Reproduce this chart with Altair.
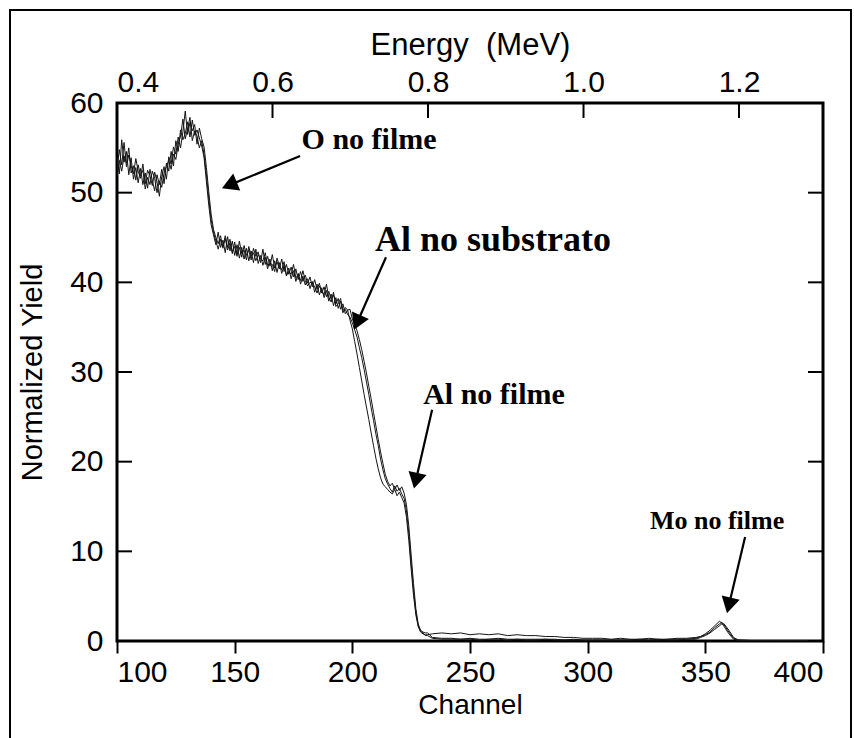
import math
import altair as alt
import pandas as pd

FONT = "Liberation Sans"
SERIF = "Liberation Serif"

# ---------------- data ----------------
channels_main = list(range(100, 233))

series1_main = [
    52.5, 54.8, 53.1, 55.6, 52.9, 54.2, 53.0, 52.1, 53.8, 52.4,
    51.6, 53.2, 51.0, 52.5, 51.9, 50.8, 52.3, 51.2, 49.6, 51.8,
    52.9, 51.5, 54.0, 53.2, 55.1, 54.3, 56.2, 55.0, 56.8, 59.1,
    56.5, 57.8, 56.9, 57.6, 55.4, 57.2, 56.0, 55.1, 52.8, 50.1,
    47.6, 45.9, 45.0, 44.3, 45.2, 43.8, 44.9, 43.6, 44.4, 43.2,
    44.5, 43.1, 43.9, 42.8, 44.1, 43.0, 43.6, 42.5, 43.8, 42.9,
    43.4, 42.2, 43.7, 42.0, 42.9, 41.8, 43.1, 41.6, 42.3, 41.5,
    42.6, 41.2, 42.0, 40.9, 41.7, 40.6, 41.5, 40.3, 41.2, 40.1,
    40.8, 39.9, 40.6, 39.5, 40.3, 39.2, 39.9, 38.8, 39.5, 38.4,
    39.0, 38.1, 38.6, 37.6, 38.2, 37.0, 37.6, 36.5, 36.9, 35.8,
    34.8, 33.4, 32.0, 30.5, 29.0, 27.5, 26.1, 24.7, 23.2, 21.8,
    20.4, 19.2, 18.2, 17.5, 17.2, 16.9, 16.6, 16.4, 16.9, 16.2,
    16.6, 16.0, 15.4, 13.8, 11.2, 8.0, 5.1, 2.9, 1.6, 1.0,
    0.8, 0.7, 0.7,
]
series2_main = [
    54.0, 52.1, 55.9, 53.4, 54.6, 52.0, 53.9, 51.5, 52.8, 51.1,
    52.7, 50.9, 52.2, 50.5, 52.6, 51.4, 50.2, 52.0, 50.9, 52.6,
    51.0, 53.3, 52.4, 54.6, 53.0, 55.8, 54.6, 57.0, 55.9, 56.6,
    57.9, 56.2, 58.1, 56.4, 57.0, 56.1, 55.2, 53.9, 51.2, 48.6,
    46.4, 45.3, 44.2, 45.6, 43.9, 44.7, 43.3, 45.1, 43.5, 44.6,
    43.0, 44.2, 42.7, 43.9, 42.6, 43.8, 42.4, 43.5, 42.2, 43.7,
    42.1, 43.0, 41.9, 42.8, 41.5, 42.6, 41.3, 42.4, 41.1, 42.2,
    41.0, 41.9, 40.7, 41.6, 40.4, 41.3, 40.1, 41.0, 39.8, 40.7,
    39.7, 40.4, 39.3, 40.1, 38.9, 39.8, 38.6, 39.4, 38.3, 39.1,
    37.9, 38.7, 37.4, 38.3, 37.1, 37.9, 36.6, 37.2, 36.9, 37.0,
    35.9, 35.3, 34.6, 33.6, 32.5, 31.2, 29.9, 28.4, 27.0, 25.5,
    24.0, 22.5, 21.1, 19.8, 18.6, 17.8, 17.3, 17.6, 16.9, 17.4,
    16.8, 17.2, 16.5, 15.2, 12.8, 9.6, 6.4, 3.6, 1.9, 1.2,
    1.0, 0.9, 0.9,
]
series3_main = [
    51.8, 53.6, 52.4, 54.1, 53.3, 55.0, 52.2, 53.0, 51.4, 53.1,
    51.9, 52.5, 50.4, 51.7, 50.9, 52.4, 51.6, 50.0, 51.3, 50.6,
    52.2, 52.9, 53.6, 52.6, 54.3, 53.7, 55.4, 56.3, 58.2, 56.0,
    57.1, 58.4, 55.8, 56.9, 56.3, 55.0, 55.8, 54.2, 52.0, 49.3,
    47.0, 45.6, 44.6, 43.7, 44.8, 44.0, 45.2, 43.9, 44.8, 43.4,
    44.0, 42.9, 44.6, 43.2, 43.6, 42.5, 44.0, 42.9, 43.3, 42.4,
    43.1, 42.6, 42.4, 43.3, 41.9, 42.1, 42.0, 41.2, 42.7, 41.8,
    41.4, 42.3, 40.8, 41.2, 40.9, 42.0, 40.5, 40.8, 40.2, 41.3,
    40.2, 39.6, 40.0, 39.9, 39.5, 38.8, 39.6, 39.0, 38.6, 39.8,
    38.3, 37.8, 38.9, 37.3, 37.6, 38.2, 36.9, 37.0, 36.4, 36.1,
    35.5, 34.7, 33.9, 32.7, 31.6, 30.3, 28.9, 27.5, 26.0, 24.6,
    23.1, 21.8, 20.3, 19.1, 18.1, 17.5, 17.0, 16.6, 17.3, 16.7,
    17.0, 16.4, 15.9, 14.5, 12.0, 8.7, 5.7, 3.2, 1.7, 1.1,
    0.9, 0.6, 0.6,
]

tail_channels = [
    234, 238, 242, 246, 250, 254, 258, 262, 266, 270,
    274, 278, 282, 286, 290, 294, 298, 302, 306, 310,
    314, 318, 322, 326, 330, 334, 338, 342, 346,
    348, 350, 352, 354, 356, 357, 358, 360, 362, 364, 370, 380, 390, 400,
]
series1_tail = [
    0.8, 0.9, 0.8, 0.9, 0.7, 0.8, 0.7, 0.8, 0.6, 0.7,
    0.6, 0.6, 0.5, 0.5, 0.4, 0.4, 0.3, 0.3, 0.3, 0.2,
    0.3, 0.2, 0.2, 0.3, 0.2, 0.2, 0.3, 0.3, 0.4,
    0.5, 0.7, 1.0, 1.5, 1.9, 2.1, 1.8, 1.0, 0.3, 0.1, 0.05, 0.05, 0.05, 0.05,
]
series2_tail = [
    0.4, 0.3, 0.3, 0.2, 0.3, 0.2, 0.2, 0.3, 0.2, 0.2,
    0.2, 0.2, 0.2, 0.2, 0.1, 0.2, 0.1, 0.1, 0.1, 0.1,
    0.1, 0.1, 0.2, 0.1, 0.1, 0.2, 0.2, 0.2, 0.3,
    0.5, 0.8, 1.2, 1.7, 2.2, 2.0, 1.6, 0.8, 0.2, 0.05, 0.05, 0.05, 0.05, 0.05,
]
series3_tail = [
    0.3, 0.2, 0.2, 0.2, 0.2, 0.1, 0.2, 0.2, 0.1, 0.2,
    0.1, 0.1, 0.2, 0.1, 0.1, 0.1, 0.1, 0.1, 0.1, 0.1,
    0.1, 0.1, 0.1, 0.1, 0.2, 0.1, 0.1, 0.2, 0.2,
    0.4, 0.6, 0.9, 1.3, 1.7, 1.9, 1.9, 1.2, 0.4, 0.1, 0.05, 0.05, 0.05, 0.05,
]

channel_ticks = [100, 150, 200, 250, 300, 350, 400]
yield_ticks = [0, 10, 20, 30, 40, 50, 60]
energy_ticks = [0.4, 0.6, 0.8, 1.0, 1.2]
channel_domain = [100, 400]
yield_domain = [0, 60]
energy_domain = [0.4, 1.308]

annot_labels = ["O no filme", "Al no substrato", "Al no filme", "Mo no filme"]
annot_x = [207.1, 259.8, 260.2, 355.0]
annot_y = [55.9, 44.7, 27.4, 13.4]
annot_size = [30, 36, 30, 26]

arrow_x0 = [177.8, 214.3, 233.9, 366.9]
arrow_y0 = [54.1, 42.8, 25.8, 11.6]
arrow_tip_x = [144.6, 200.7, 226.2, 359.2]
arrow_tip_y = [50.5, 34.7, 17.0, 3.1]

# ---------------- layout ----------------
W, H = 706, 538
PAD = {"left": 117, "top": 103, "right": 31, "bottom": 97}
TICK = 15

rows = []
for name, xs, m, t in [
    ("s1", channels_main, series1_main, series1_tail),
    ("s2", channels_main, series2_main, series2_tail),
    ("s3", channels_main, series3_main, series3_tail),
]:
    for c, v in zip(xs + tail_channels, m + t):
        rows.append({"series": name, "channel": c, "yield": v})
df = pd.DataFrame(rows)

xscale = alt.Scale(domain=channel_domain, nice=False, zero=False)
yscale = alt.Scale(domain=yield_domain, nice=False, zero=False)

xaxis = alt.Axis(
    orient="bottom", values=channel_ticks, tickSize=12, tickWidth=2,
    tickColor="black", domain=False, grid=False,
    labelFont=FONT, labelFontSize=30, labelColor="black", labelPadding=4,
    title="Channel", titleFont=FONT, titleFontSize=28,
    titleFontWeight="normal", titleColor="black", titlePadding=4,
)
yaxis = alt.Axis(
    orient="left", values=yield_ticks, tickSize=0, domain=False, grid=False,
    labelFont=FONT, labelFontSize=30, labelColor="black", labelPadding=14,
    title="Normalized Yield", titleFont=FONT, titleFontSize=29,
    titleFontWeight="normal", titleColor="black", titlePadding=22,
)

lines = alt.Chart(df).mark_line(color="#151515", strokeWidth=1.0, clip=True).encode(
    x=alt.X("channel:Q", scale=xscale, axis=xaxis),
    y=alt.Y("yield:Q", scale=yscale, axis=yaxis),
    detail="series:N",
)

ytick_df = pd.DataFrame({"yield": yield_ticks})
left_ticks = alt.Chart(ytick_df).mark_rule(color="black", strokeWidth=2).encode(
    y=alt.Y("yield:Q", scale=yscale, axis=yaxis),
    x=alt.value(0), x2=alt.value(TICK),
)
right_ticks = alt.Chart(ytick_df).mark_rule(color="black", strokeWidth=2).encode(
    y=alt.Y("yield:Q", scale=yscale, axis=yaxis),
    x=alt.value(W - TICK), x2=alt.value(W),
)

annot_df = pd.DataFrame({"label": annot_labels, "channel": annot_x,
                         "yield": annot_y, "fs": annot_size})
texts = alt.Chart(annot_df).mark_text(
    font=SERIF, fontWeight="bold", color="black", align="center", baseline="middle"
).encode(
    x=alt.X("channel:Q", scale=xscale, axis=xaxis),
    y=alt.Y("yield:Q", scale=yscale, axis=yaxis),
    text="label:N",
    size=alt.Size("fs:Q", scale=None, legend=None),
)

# arrow geometry (triangle centre set back from the tip along the shaft)
px_ch = W / (channel_domain[1] - channel_domain[0])
px_y = H / (yield_domain[1] - yield_domain[0])
HEAD = 340
h = math.sqrt(3) / 2 * math.sqrt(HEAD) / 2
arr = []
for x0, y0, x1, y1 in zip(arrow_x0, arrow_y0, arrow_tip_x, arrow_tip_y):
    dx = (x1 - x0) * px_ch
    dy = -(y1 - y0) * px_y
    L = math.hypot(dx, dy)
    ux, uy = dx / L, dy / L
    cx = x1 - ux * h / px_ch
    cy = y1 + uy * h / px_y
    ang = math.degrees(math.atan2(dx, -dy)) % 360
    arr.append({"channel": x0, "yield": y0, "cx": cx, "cy": cy, "ang": ang})
arr_df = pd.DataFrame(arr)

shafts = alt.Chart(arr_df).mark_rule(color="black", strokeWidth=2.2).encode(
    x=alt.X("channel:Q", scale=xscale, axis=xaxis),
    y=alt.Y("yield:Q", scale=yscale, axis=yaxis),
    x2="cx:Q", y2="cy:Q",
)
heads = alt.Chart(arr_df).mark_point(
    shape="triangle-up", filled=True, color="black", opacity=1, size=HEAD
).encode(
    x=alt.X("cx:Q", scale=xscale, axis=xaxis),
    y=alt.Y("cy:Q", scale=yscale, axis=yaxis),
    angle=alt.Angle("ang:Q", scale=None),
)

frame = alt.Chart(pd.DataFrame({"a": [0]})).mark_rect(
    fill=None, fillOpacity=0, stroke="black", strokeWidth=2
).encode(
    x=alt.value(10 - PAD["left"]), x2=alt.value(851 - PAD["left"]),
    y=alt.value(10 - PAD["top"]), y2=alt.value(760 - PAD["top"]),
)

inner = alt.layer(lines, left_ticks, right_ticks, shafts, heads, texts, frame)

energy_df = pd.DataFrame({"energy": energy_ticks})
energy_layer = alt.Chart(energy_df).mark_rule(color="black", strokeWidth=2).encode(
    x=alt.X(
        "energy:Q",
        scale=alt.Scale(domain=energy_domain, nice=False, zero=False),
        axis=alt.Axis(
            orient="top", values=energy_ticks, format=".1f", tickSize=0,
            domain=False, grid=False, labelFlush=True,
            labelFont=FONT, labelFontSize=30, labelColor="black", labelPadding=6,
            title="Energy\u00a0 (MeV)", titleFont=FONT, titleFontSize=31,
            titleFontWeight="normal", titleColor="black", titlePadding=6,
        ),
    ),
    y=alt.value(0), y2=alt.value(TICK),
)

chart = (
    alt.layer(inner, energy_layer)
    .resolve_scale(x="independent")
    .properties(
        width=W, height=H,
        autosize=alt.AutoSizeParams(type="none"),
        padding=PAD,
        background="white",
    )
    .configure_view(stroke="black", strokeWidth=3)
)

chart.save("out.html", embed_options={"renderer": "svg", "actions": False})
